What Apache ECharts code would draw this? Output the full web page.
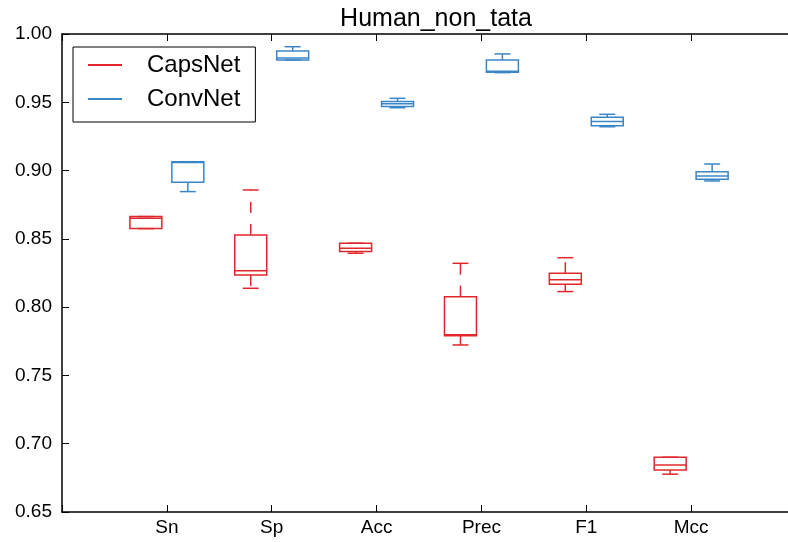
<!DOCTYPE html>
<html>
<head>
<meta charset="utf-8">
<script src="https://cdn.jsdelivr.net/npm/echarts@6/dist/echarts.min.js"></script>
<style>
  html, body { margin: 0; padding: 0; background: #fff; }
  #chart { width: 788px; height: 542px; }
</style>
</head>
<body>
<div id="chart"></div>
<script>
// Metric names along the x axis (placed at x = 1..6)
const categories = ['Sn', 'Sp', 'Acc', 'Prec', 'F1', 'Mcc'];

// Five-number summaries per metric: [min, q1, median, q3, max]
const capsNetBoxes = [
  [0.8575, 0.8575, 0.8650, 0.8663, 0.8663],
  [0.8138, 0.8236, 0.8267, 0.8529, 0.8858],
  [0.8395, 0.8407, 0.8431, 0.8468, 0.8468],
  [0.7723, 0.7790, 0.7797, 0.8077, 0.8321],
  [0.8114, 0.8168, 0.8200, 0.8248, 0.8362],
  [0.6777, 0.6808, 0.6845, 0.6901, 0.6901]
];
const convNetBoxes = [
  [0.8846, 0.8914, 0.9060, 0.9065, 0.9065],
  [0.9810, 0.9810, 0.9825, 0.9876, 0.9907],
  [0.9460, 0.9470, 0.9490, 0.9505, 0.9529],
  [0.9717, 0.9720, 0.9727, 0.9810, 0.9854],
  [0.9321, 0.9329, 0.9360, 0.9390, 0.9412],
  [0.8924, 0.8936, 0.8960, 0.8992, 0.9048]
];

const yTicks = { min: 0.65, max: 1.0, step: 0.05 };

const RED = '#e0282c';
const BLUE = '#3a86c6';
const FONT = 'Liberation Sans, Arial, sans-serif';
const BOX_W = 0.305;      // box width in x-axis units
const SHIFT = 0.2;        // side-by-side offset from the category position

function boxRenderer(color, shift) {
  return function (params, api) {
    const x = api.value(0) + shift;
    const vMin = api.value(1), q1 = api.value(2), med = api.value(3), q3 = api.value(4), vMax = api.value(5);
    const cx = api.coord([x, med])[0];
    const halfW = api.size([BOX_W, 0])[0] / 2;
    const yMin = api.coord([x, vMin])[1];
    const yQ1 = api.coord([x, q1])[1];
    const yMed = api.coord([x, med])[1];
    const yQ3 = api.coord([x, q3])[1];
    const yMax = api.coord([x, vMax])[1];
    const solid = { stroke: color, lineWidth: 1.5, fill: null };
    const dashed = { stroke: color, lineWidth: 1.5, fill: null, lineDash: [11, 11] };
    const capHalf = halfW / 2;
    const children = [
      { type: 'line', shape: { x1: cx, y1: yQ3, x2: cx, y2: yMax }, style: dashed },
      { type: 'line', shape: { x1: cx, y1: yQ1, x2: cx, y2: yMin }, style: dashed },
      { type: 'line', shape: { x1: cx - capHalf, y1: yMax, x2: cx + capHalf, y2: yMax }, style: solid },
      { type: 'line', shape: { x1: cx - capHalf, y1: yMin, x2: cx + capHalf, y2: yMin }, style: solid },
      { type: 'rect', shape: { x: cx - halfW, y: yQ3, width: halfW * 2, height: yQ1 - yQ3 }, style: solid },
      { type: 'line', shape: { x1: cx - halfW, y1: yMed, x2: cx + halfW, y2: yMed }, style: solid }
    ];
    return { type: 'group', children: children };
  };
}

function toData(boxes) {
  return boxes.map((b, i) => [i + 1].concat(b));
}

const axisLineStyle = { color: '#000', width: 1.5 };
const tickStyle = { show: true, inside: true, length: 7, lineStyle: { color: '#000', width: 1 } };

const chart = echarts.init(document.getElementById('chart'));
chart.setOption({
  animation: false,
  backgroundColor: '#fff',
  title: {
    text: 'Human_non_tata',
    left: 431,
    textAlign: 'center',
    top: 2,
    textStyle: { fontFamily: FONT, fontSize: 25, fontWeight: 'normal', color: '#000' }
  },
  legend: {
    orient: 'vertical',
    left: 73,
    top: 47,
    padding: [3, 15, 8, 15],
    itemGap: 4,
    itemWidth: 34,
    itemHeight: 2,
    borderColor: '#000',
    borderWidth: 1,
    borderRadius: 0,
    backgroundColor: '#fff',
    data: [
      { name: 'CapsNet', icon: 'rect' },
      { name: 'ConvNet', icon: 'rect' }
    ],
    textStyle: { fontFamily: FONT, fontSize: 24, lineHeight: 30, color: '#000', padding: [0, 0, 0, 20] }
  },
  grid: { left: 62, top: 34, width: 734, height: 478, show: false, outerBoundsMode: 'none', containLabel: false },
  xAxis: [
    {
      type: 'value', min: 0, max: categories.length + 1, interval: 1, position: 'bottom',
      axisLine: { show: true, lineStyle: axisLineStyle },
      axisTick: tickStyle,
      splitLine: { show: false },
      axisLabel: {
        fontFamily: FONT, fontSize: 19, color: '#000', margin: 6,
        formatter: v => categories[v - 1] || ''
      }
    },
    {
      type: 'value', min: 0, max: categories.length + 1, interval: 1, position: 'top',
      axisLine: { show: true, onZero: false, lineStyle: axisLineStyle },
      axisTick: tickStyle,
      splitLine: { show: false },
      axisLabel: { show: false }
    }
  ],
  yAxis: [
    {
      type: 'value', min: yTicks.min, max: yTicks.max, interval: yTicks.step, position: 'left',
      axisLine: { show: true, lineStyle: axisLineStyle },
      axisTick: tickStyle,
      splitLine: { show: false },
      axisLabel: { fontFamily: FONT, fontSize: 19, color: '#000', margin: 10, formatter: v => v.toFixed(2) }
    },
    {
      type: 'value', min: yTicks.min, max: yTicks.max, interval: yTicks.step, position: 'right',
      axisLine: { show: true, onZero: false, lineStyle: axisLineStyle },
      axisTick: tickStyle,
      splitLine: { show: false },
      axisLabel: { show: false }
    }
  ],
  series: [
    {
      name: 'CapsNet', type: 'custom', xAxisIndex: 0, yAxisIndex: 0,
      itemStyle: { color: RED },
      renderItem: boxRenderer(RED, -SHIFT),
      encode: { x: 0, y: [1, 2, 3, 4, 5] },
      data: toData(capsNetBoxes)
    },
    {
      name: 'ConvNet', type: 'custom', xAxisIndex: 0, yAxisIndex: 0,
      itemStyle: { color: BLUE },
      renderItem: boxRenderer(BLUE, SHIFT),
      encode: { x: 0, y: [1, 2, 3, 4, 5] },
      data: toData(convNetBoxes)
    }
  ]
});
</script>
</body>
</html>
